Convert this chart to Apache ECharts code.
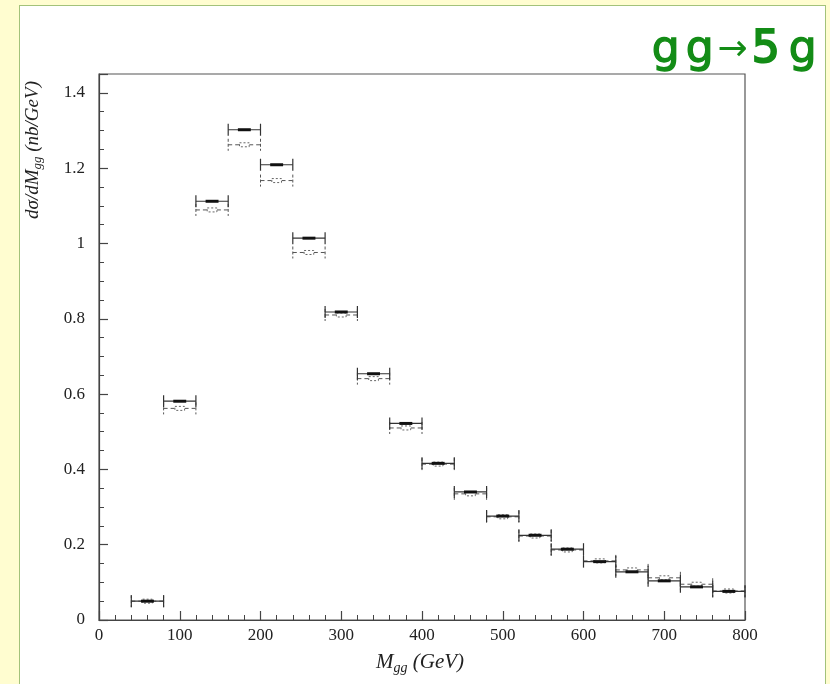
<!DOCTYPE html>
<html>
<head>
<meta charset="utf-8">
<script src="https://cdn.jsdelivr.net/npm/echarts@6/dist/echarts.min.js"></script>
<style>
html,body{margin:0;padding:0;background:#fffdd0;width:830px;height:684px;overflow:hidden;}
#panel{position:absolute;left:19px;top:5px;width:805px;height:690px;background:#fff;border:1px solid #a3c27a;}
#chart{position:absolute;left:0;top:0;width:830px;height:684px;}
</style>
</head>
<body>
<div id="panel"></div>
<div id="chart"></div>
<script>
// Bin edges (GeV)
const binLow  = [40, 80, 120, 160, 200, 240, 280, 320, 360, 400, 440, 480, 520, 560, 600, 640, 680, 720, 760];
const binHigh = [80, 120, 160, 200, 240, 280, 320, 360, 400, 440, 480, 520, 560, 600, 640, 680, 720, 760, 800];
// dσ/dM_gg (nb/GeV), solid histogram
const solidValues  = [0.050, 0.581, 1.112, 1.302, 1.209, 1.014, 0.818, 0.654, 0.522, 0.416, 0.340, 0.276, 0.225, 0.188, 0.155, 0.128, 0.104, 0.088, 0.076];
// dashed histogram
const dashedValues = [0.050, 0.562, 1.089, 1.262, 1.167, 0.976, 0.810, 0.641, 0.510, 0.414, 0.335, 0.274, 0.223, 0.186, 0.157, 0.133, 0.112, 0.095, 0.077];
const xTicks = [0, 100, 200, 300, 400, 500, 600, 700, 800];
const yTicks = [0, 0.2, 0.4, 0.6, 0.8, 1, 1.2, 1.4];

const chart = echarts.init(document.getElementById('chart'));

function makeData(vals){ return vals.map((v,i)=>[binLow[i], binHigh[i], v]); }

function renderSolid(params, api){
  const lo = api.value(0), hi = api.value(1), v = api.value(2);
  const p0 = api.coord([lo, v]), p1 = api.coord([hi, v]);
  const y = p0[1], w = p1[0]-p0[0];
  const st = {stroke:'#333', lineWidth:1.2};
  return {type:'group', children:[
    {type:'line', shape:{x1:p0[0],y1:y,x2:p1[0],y2:y}, style:st},
    {type:'line', shape:{x1:p0[0],y1:y-6,x2:p0[0],y2:y+6}, style:st},
    {type:'line', shape:{x1:p1[0],y1:y-6,x2:p1[0],y2:y+6}, style:st},
    {type:'line', shape:{x1:p0[0]+w*0.3,y1:y,x2:p0[0]+w*0.7,y2:y}, style:{stroke:'#111', lineWidth:3}}
  ]};
}
function renderDashed(params, api){
  const lo = api.value(0), hi = api.value(1), v = api.value(2);
  const p0 = api.coord([lo, v]), p1 = api.coord([hi, v]);
  const y = p0[1], w = p1[0]-p0[0], cx = (p0[0]+p1[0])/2;
  const st = {stroke:'#555', lineWidth:1, lineDash:[4,3]};
  return {type:'group', children:[
    {type:'line', shape:{x1:p0[0],y1:y,x2:p1[0],y2:y}, style:st},
    {type:'line', shape:{x1:p0[0],y1:y-6,x2:p0[0],y2:y+6}, style:{stroke:'#555', lineWidth:1, lineDash:[3,2]}},
    {type:'line', shape:{x1:p1[0],y1:y-6,x2:p1[0],y2:y+6}, style:{stroke:'#555', lineWidth:1, lineDash:[3,2]}},
    {type:'rect', shape:{x:cx-w*0.15,y:y-2,width:w*0.3,height:4}, style:{fill:'#fff', stroke:'#666', lineWidth:1, lineDash:[2,2]}}
  ]};
}

const serif = '"Liberation Serif", "DejaVu Serif", serif';
const sans = '"DejaVu Sans", sans-serif';
const green = '#138c16';

chart.setOption({
  animation:false,
  backgroundColor:'transparent',
  grid:{left:99, top:74, right:85, bottom:64, show:true, borderColor:'#555', borderWidth:1.2, backgroundColor:'transparent'},
  xAxis:{
    type:'value', min:0, max:800, interval:100,
    axisLine:{show:true, onZero:false, lineStyle:{color:'#444', width:1.2}},
    axisTick:{show:true, inside:true, length:9, lineStyle:{color:'#444', width:1.2}},
    minorTick:{show:true, splitNumber:5, length:5, lineStyle:{color:'#444', width:1}},
    splitLine:{show:false},
    axisLabel:{fontFamily:serif, fontSize:17, color:'#222', margin:7,
      formatter:function(v){ return xTicks.indexOf(v)>=0 ? String(v) : ''; }}
  },
  yAxis:{
    type:'value', min:0, max:1.45, interval:0.2,
    axisLine:{show:true, onZero:false, lineStyle:{color:'#444', width:1.2}},
    axisTick:{show:true, inside:true, length:9, lineStyle:{color:'#444', width:1.2}},
    minorTick:{show:true, splitNumber:4, length:5, lineStyle:{color:'#444', width:1}},
    splitLine:{show:false},
    axisLabel:{fontFamily:serif, fontSize:17, color:'#222', margin:14, showMaxLabel:false,
      formatter:function(v){ const t = yTicks.find(k=>Math.abs(k-v)<1e-9); return t===undefined ? '' : String(t); }}
  },
  title:{
    text:'{g|g}{g|g}{a|→}{f|5}{g|g}',
    right:10, top:24,
    textStyle:{
      fontWeight:'normal',
      rich:{
        g:{fontFamily:sans, fontSize:44, fontWeight:'normal', color:green, textBorderColor:green, textBorderWidth:1.3, padding:[0,3,0,3]},
        a:{fontFamily:sans, fontSize:36, fontWeight:'normal', color:green, padding:[0,1,0,1]},
        f:{fontFamily:sans, fontSize:44, fontWeight:'normal', color:green, textBorderColor:green, textBorderWidth:2, padding:[0,6,0,3]}
      }
    }
  },
  graphic:[
    {type:'text', x:33, y:150, rotation:Math.PI/2,
      style:{text:'{m|dσ/dM}{s|gg}{m| (nb/GeV)}', align:'center', verticalAlign:'middle',
        rich:{
          m:{fontFamily:serif, fontStyle:'italic', fontSize:19, fill:'#222'},
          s:{fontFamily:serif, fontStyle:'italic', fontSize:13, fill:'#222', padding:[10,0,0,0]}
        }}},
    {type:'text', x:420, y:662,
      style:{text:'{m|M}{s|gg}{m| (GeV)}', align:'center', verticalAlign:'middle',
        rich:{
          m:{fontFamily:serif, fontStyle:'italic', fontSize:21, fill:'#222'},
          s:{fontFamily:serif, fontStyle:'italic', fontSize:14, fill:'#222', padding:[12,0,0,0]}
        }}}
  ],
  series:[
    {type:'custom', name:'dashed', renderItem:renderDashed, data:makeData(dashedValues), encode:{x:[0,1], y:2}, z:2},
    {type:'custom', name:'solid', renderItem:renderSolid, data:makeData(solidValues), encode:{x:[0,1], y:2}, z:3}
  ]
});
</script>
</body>
</html>
